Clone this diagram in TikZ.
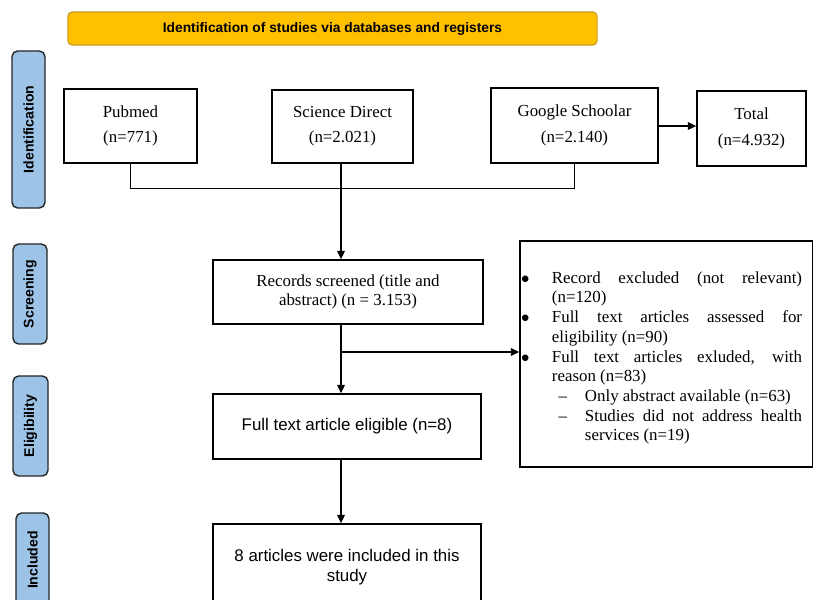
\documentclass[tikz,border=0pt]{standalone}
\usepackage{fontspec}
\setmainfont{Liberation Serif}
\newfontfamily\arialfont{Liberation Sans}
\usetikzlibrary{arrows.meta}

\definecolor{bannerorange}{HTML}{FFC000}
\definecolor{banneredge}{HTML}{C99A1A}
\definecolor{phaseblue}{HTML}{9DC3E6}

% list set-up for the exclusion box
\newcommand{\exclist}[2]{\setlength{\leftmargin}{#1}\setlength{\labelwidth}{0.3cm}%
  \setlength{\labelsep}{#2}\setlength{\itemsep}{0pt}\setlength{\parsep}{0pt}%
  \setlength{\topsep}{0pt}\setlength{\partopsep}{0pt}}

\begin{document}
\begin{tikzpicture}[x=0.025cm, y=-0.025cm]
  % Define styles
  \tikzstyle{banner} = [rectangle, rounded corners=3pt, draw=banneredge, line width=0.8pt, fill=bannerorange, minimum width=13.225cm, minimum height=0.825cm, font=\arialfont\bfseries\fontsize{9.8}{12}\selectfont]
  \tikzstyle{phase} = [rectangle, rounded corners=4pt, rotate=90, draw=black!85, line width=1pt, fill=phaseblue, inner sep=0pt, font=\arialfont\bfseries\fontsize{10}{12}\selectfont]
  \tikzstyle{source} = [rectangle, draw=black, line width=1.1pt, align=center, font=\fontsize{12}{18}\selectfont]
  \tikzstyle{process} = [rectangle, draw=black, line width=1.1pt, align=center, font=\fontsize{12}{14}\selectfont]
  \tikzstyle{sansprocess} = [process, font=\arialfont\fontsize{12}{14}\selectfont]
  \tikzstyle{line} = [line width=1pt]
  \tikzstyle{arrow} = [line width=1pt, -{Triangle[length=6pt,width=5.5pt]}]

  \useasboundingbox (0,0) rectangle (813,599);
  \clip (0,0) rectangle (813,599);

  % Banner and phases
  \node (banner) [banner] at (332.5,28.5) {Identification of studies via databases and registers};
  \node (identphase) [phase, minimum width=3.925cm, minimum height=0.825cm] at (28.5,129.5) {Identification};
  \node (screenphase) [phase, minimum width=2.5cm, minimum height=0.85cm] at (30,294) {Screening};
  \node (eligphase) [phase, minimum width=2.5cm, minimum height=0.875cm] at (30.5,426) {Eligibility};
  \node (inclphase) [phase, minimum width=2.35cm, minimum height=0.825cm] at (32.5,560) {Included};

  % Nodes
  \node (pubmed) [source, minimum width=3.325cm, minimum height=1.85cm] at (130.5,126) {Pubmed\\(n=771)};
  \node (scidir) [source, minimum width=3.525cm, minimum height=1.825cm] at (342.5,126.5) {Science Direct\\(n=2.021)};
  \node (google) [source, minimum width=4.175cm, minimum height=1.875cm] at (574.5,125.5) {Google Schoolar\\(n=2.140)};
  \node (total) [source, minimum width=2.725cm, minimum height=1.875cm] at (751.5,128.5) {Total\\(n=4.932)};
  \node (screened) [process, minimum width=6.75cm, minimum height=1.6cm] at (348,292) {Records screened (title and\\abstract) (n = 3.153)};
  \node (eligible) [sansprocess, minimum width=6.7cm, minimum height=1.625cm] at (347,426.5) {Full text article eligible (n=8)};
  \node (included) [sansprocess, minimum width=6.7cm, minimum height=2.15cm] at (347,567) {8 articles were included in this\\study};
  \node (excluded) [process, text width=6.775cm, inner xsep=0.275cm, minimum height=5.65cm, align=justify] at (666.5,354) {%
    \tolerance=9999 \hyphenpenalty=10000
    \begin{list}{$\bullet$}{\exclist{0.525cm}{0.56cm}}
      \item Record excluded (not relevant) (n=120)
      \item Full text articles assessed for eligibility (n=90)
      \item Full text articles exluded, with\linebreak reason (n=83)
      \begin{list}{\textendash}{\exclist{0.825cm}{0.45cm}}
        \item Only abstract available (n=63)
        \item Studies did not address health services (n=19)
      \end{list}
    \end{list}};

  \coordinate (stem) at (341,0);
  \coordinate (split) at (341,352);

  % Arrows
  \draw [line] (pubmed.south) -- ++(0,25) -| (google.south);
  \draw [arrow] (stem |- scidir.south) -- (stem |- screened.north);
  \draw [arrow] (google.east |- 0,126) -- (total.west |- 0,126);
  \draw [arrow] (stem |- screened.south) -- (stem |- eligible.north);
  \draw [arrow] (split) -- (split -| excluded.west);
  \draw [arrow] (stem |- eligible.south) -- (stem |- included.north);
\end{tikzpicture}
\end{document}
